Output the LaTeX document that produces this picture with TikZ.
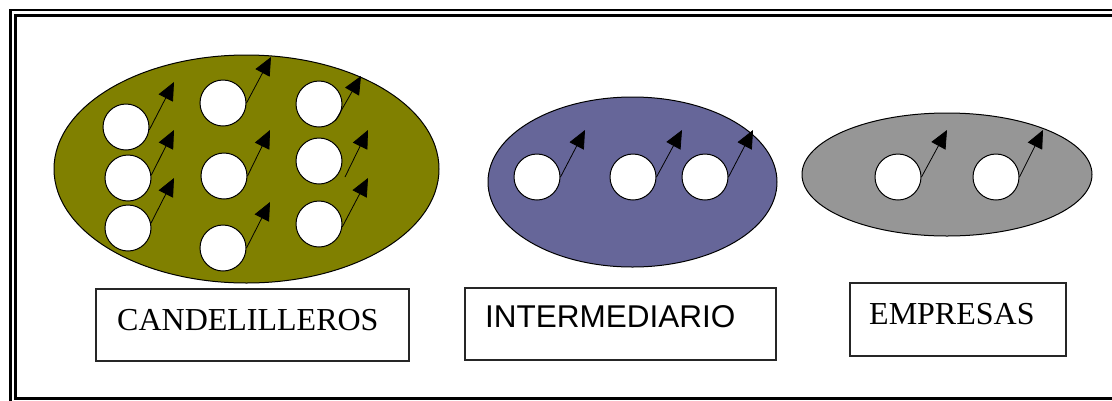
\documentclass[tikz,border=0pt]{standalone}
\usepackage{fontspec}
\setmainfont{Liberation Serif}
\newfontfamily\sansf{Liberation Sans}
\usetikzlibrary{arrows.meta}
\definecolor{olivefill}{RGB}{128,128,0}
\definecolor{bluefill}{RGB}{102,102,153}
\definecolor{grayfill}{RGB}{150,150,150}
\begin{document}
\begin{tikzpicture}[x=1pt,y=-1pt,
  frame/.style={draw=black, line width=2.4pt},
  blob/.style={draw=black, line width=1pt},
  dot/.style={circle, draw=black, fill=white, line width=1pt, minimum size=46pt, inner sep=0pt},
  arr/.style={-{Triangle[length=18pt,width=16pt]}, line width=0.8pt, black},
  labelbox/.style={draw=black!85, line width=1.4pt, inner sep=0pt, fill=white},
  serift/.style={inner sep=0pt, anchor=base west, font=\fontsize{32}{36}\selectfont},
  sanst/.style={inner sep=0pt, anchor=base west, font=\sansf\fontsize{31.5}{36}\selectfont}]
\useasboundingbox (0,0) rectangle (1112,400);
\clip (0,0) rectangle (1112,400);
\fill[white] (0,0) rectangle (1112,400);
% frame
\draw[frame] (10.5,10) rectangle (1125,410);
\draw[frame] (15.5,15.5) rectangle (1120,398.5);
% ellipses
\filldraw[blob, fill=olivefill] (246.5,169) ellipse [x radius=192.5, y radius=114];
\filldraw[blob, fill=bluefill] (632.5,182) ellipse [x radius=144.5, y radius=85];
\filldraw[blob, fill=grayfill] (947,174.5) ellipse [x radius=145, y radius=61.5];
% olive circles
\node[dot] (c11) at (126,127) {};
\node[dot] (c12) at (128,178) {};
\node[dot] (c13) at (128,228) {};
\node[dot] (c21) at (223,103) {};
\node[dot] (c22) at (224,176) {};
\node[dot] (c23) at (223,248) {};
\node[dot] (c31) at (319,104) {};
\node[dot] (c32) at (319,161) {};
\node[dot] (c33) at (319,224) {};
% blue circles
\node[dot] (b1) at (537,177) {};
\node[dot] (b2) at (633,177) {};
\node[dot] (b3) at (705,177) {};
% gray circles
\node[dot] (g1) at (898,177) {};
\node[dot] (g2) at (996,177) {};
% arrow tips
\coordinate (t11) at (174,82);
\coordinate (t12) at (174,130);
\coordinate (t13) at (174,178);
\coordinate (t21) at (271,57);
\coordinate (t22) at (270,130);
\coordinate (t23) at (270,202);
\coordinate (t31) at (361,76);
\coordinate (t32) at (368,130);
\coordinate (t33) at (368,178);
\coordinate (s32) at (345,177);
\coordinate (tb1) at (585,130);
\coordinate (tb2) at (682,130);
\coordinate (tb3) at (753,130);
\coordinate (tg1) at (947,130);
\coordinate (tg2) at (1043,130);
% arrows
\draw[arr] (c11.-7) -- (t11);
\draw[arr] (c12.7) -- (t12);
\draw[arr] (c13.12) -- (t13);
\draw[arr] (c21.0) -- (t21);
\draw[arr] (c22.0) -- (t22);
\draw[arr] (c23.0) -- (t23);
\draw[arr] (c31.-46) -- (t31);
\draw[arr] (s32) -- (t32);
\draw[arr] (c33.-7) -- (t33);
\draw[arr] (b1.0) -- (tb1);
\draw[arr] (b2.0) -- (tb2);
\draw[arr] (b3.0) -- (tb3);
\draw[arr] (g1.0) -- (tg1);
\draw[arr] (g2.0) -- (tg2);
% label boxes
\node[labelbox, minimum width=313pt, minimum height=72pt] (box1) at (252.5,325) {};
\node[labelbox, minimum width=311pt, minimum height=72pt] (box2) at (620.5,324) {};
\node[labelbox, minimum width=216pt, minimum height=73pt] (box3) at (958,319.5) {};
\node[serift] (l1) at (117,330) {CANDELILLEROS};
\node[sanst] (l2) at (485,327) {INTERMEDIARIO};
\node[serift] (l3) at (869,324) {EMPRESAS};
\end{tikzpicture}
\end{document}
